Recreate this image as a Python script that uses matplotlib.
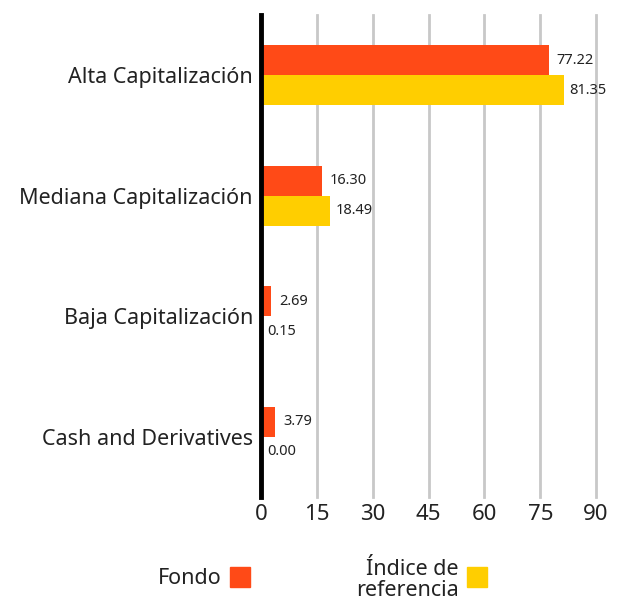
import matplotlib
matplotlib.use('Agg')
import matplotlib.pyplot as plt
from matplotlib.patches import Rectangle
import numpy as np

plt.rcParams['font.family'] = ['Noto Sans', 'DejaVu Sans']

# 数据
categories = ['Alta Capitalización', 'Mediana Capitalización', 'Baja Capitalización', 'Cash and Derivatives']
fondo = [77.22, 16.30, 2.69, 3.79]
indice = [81.35, 18.49, 0.15, 0.00]
xticks = [0, 15, 30, 45, 60, 75, 90]

c_fondo = '#FF4A17'
c_indice = '#FFCE00'

fig = plt.figure(figsize=(6.19, 6.03), dpi=100)
ax = fig.add_axes([0.422, 0.176, 0.541, 0.799])

y = np.arange(len(categories))
h = 0.25
ax.barh(y - h / 2, fondo, height=h, color=c_fondo, zorder=3)
ax.barh(y + h / 2, indice, height=h, color=c_indice, zorder=3)

for yi, v in zip(y - h / 2, fondo):
    ax.annotate(f'{v:.2f}', (v, yi), xytext=(5.5, 0), textcoords='offset points',
                va='center', ha='left', fontsize=10.5, color='#222222')
for yi, v in zip(y + h / 2, indice):
    ax.annotate(f'{v:.2f}', (v, yi), xytext=(4, 0), textcoords='offset points',
                va='center', ha='left', fontsize=10.5, color='#222222')

ax.set_ylim(len(categories) - 0.5, -0.5)
ax.set_xlim(0, 90)
ax.set_yticks(y)
ax.set_yticklabels(categories, fontsize=15.5, color='#222222')
ax.set_xticks(xticks)
ax.set_xticklabels([str(t) for t in xticks], fontsize=16, color='#222222')
ax.tick_params(axis='both', length=0)
ax.tick_params(axis='x', pad=5)
ax.tick_params(axis='y', pad=6)

ax.grid(axis='x', color='#c8c8c8', linewidth=2, zorder=0)
for gl in ax.get_xgridlines():
    gl.set_clip_on(False)
for s in ['top', 'right', 'bottom']:
    ax.spines[s].set_visible(False)
ax.spines['left'].set_linewidth(3.5)
ax.spines['left'].set_color('black')
ax.spines['left'].set_zorder(5)

# 图例
fig.text(222 / 619, 1 - 579 / 603, 'Fondo', ha='right', va='center', fontsize=15.5, color='#222222')
fig.patches.append(Rectangle((230 / 619, 1 - 587 / 603), 20 / 619, 20 / 603,
                             transform=fig.transFigure, color=c_fondo))
fig.text(459 / 619, 1 - 580 / 603, 'Índice de\nreferencia', ha='right', va='center',
         fontsize=15.5, color='#222222', multialignment='right', linespacing=1.05)
fig.patches.append(Rectangle((467 / 619, 1 - 587 / 603), 20 / 619, 20 / 603,
                             transform=fig.transFigure, color=c_indice))

plt.savefig('out.png', dpi=100)
